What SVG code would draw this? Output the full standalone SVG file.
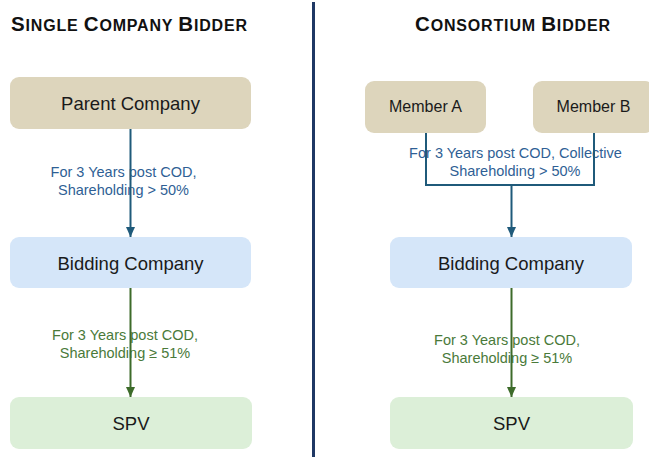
<svg xmlns="http://www.w3.org/2000/svg" width="649" height="457" viewBox="0 0 649 457">
  <style>
    .title { font-family: "Liberation Sans", Arial, sans-serif; font-weight: bold; fill: #111; }
    .big { font-size: 20.5px; }
    .sm { font-size: 16px; }
    .node { font-family: "Liberation Sans", Arial, sans-serif; font-size: 18.5px; fill: #1a1a1a; text-anchor: middle; }
    .member { font-size: 16px; }
    .lbl { font-family: "Liberation Sans", Arial, sans-serif; font-size: 14.5px; text-anchor: middle; }
    .lblBlue { fill: #2f5f95; }
    .lblGreen { fill: #4a7a3a; }
    .tan { fill: #ddd5bc; }
    .blue { fill: #d5e6f9; }
    .green { fill: #dcefd8; }
    .edgeBlue { fill: none; stroke: #1f5a7a; stroke-width: 2; }
    .edgeGreen { fill: none; stroke: #3d6b2a; stroke-width: 2; }
  </style>
  <defs>
    <marker id="arrBlue" markerUnits="userSpaceOnUse" markerWidth="10" markerHeight="10" viewBox="0 0 10 10" refX="10" refY="5" orient="auto">
      <path d="M0,0.5 L10,5 L0,9.5 Z" fill="#1f5a7a"/>
    </marker>
    <marker id="arrGreen" markerUnits="userSpaceOnUse" markerWidth="10" markerHeight="10" viewBox="0 0 10 10" refX="10" refY="5" orient="auto">
      <path d="M0,0.5 L10,5 L0,9.5 Z" fill="#3d6b2a"/>
    </marker>
  </defs>

  <rect width="649" height="457" fill="#ffffff"/>

  <!-- headings -->
  <text class="title" x="11" y="31" textLength="236" lengthAdjust="spacing"><tspan class="big">S</tspan><tspan class="sm">INGLE </tspan><tspan class="big">C</tspan><tspan class="sm">OMPANY </tspan><tspan class="big">B</tspan><tspan class="sm">IDDER</tspan></text>
  <text class="title" x="415" y="31" textLength="195" lengthAdjust="spacing"><tspan class="big">C</tspan><tspan class="sm">ONSORTIUM </tspan><tspan class="big">B</tspan><tspan class="sm">IDDER</tspan></text>

  <!-- column divider -->
  <line x1="313.5" y1="2" x2="313.5" y2="457" stroke="#1f3864" stroke-width="3"/>

  <!-- single company column -->
  <g id="parent-company">
    <rect class="tan" x="10" y="77" width="241" height="52" rx="9"/>
    <text class="node" x="130.5" y="110">Parent Company</text>
  </g>
  <g id="bidding-company-single">
    <rect class="blue" x="10" y="237" width="241" height="51" rx="9"/>
    <text class="node" x="130.5" y="270">Bidding Company</text>
  </g>
  <g id="spv-single">
    <rect class="green" x="10" y="397" width="242" height="52" rx="9"/>
    <text class="node" x="131" y="430">SPV</text>
  </g>

  <!-- consortium column -->
  <g id="member-a">
    <rect class="tan" x="365" y="81" width="121" height="52" rx="9"/>
    <text class="node member" x="425.5" y="112">Member A</text>
  </g>
  <g id="member-b">
    <rect class="tan" x="533" y="81" width="121" height="52" rx="9"/>
    <text class="node member" x="593.5" y="112">Member B</text>
  </g>
  <g id="bidding-company-consortium">
    <rect class="blue" x="390" y="237" width="242" height="51" rx="9"/>
    <text class="node" x="511" y="270">Bidding Company</text>
  </g>
  <g id="spv-consortium">
    <rect class="green" x="390" y="397" width="243" height="52" rx="9"/>
    <text class="node" x="511.5" y="430">SPV</text>
  </g>

  <!-- connectors and their labels -->
  <g id="connectors">
    <text class="lbl lblBlue" x="123.5" y="177">For 3 Years post COD,</text>
    <text class="lbl lblBlue" x="123.5" y="195">Shareholding &gt; 50%</text>
    <path class="edgeBlue" d="M130.5,129 V237" marker-end="url(#arrBlue)"/>

    <text class="lbl lblGreen" x="125" y="340">For 3 Years post COD,</text>
    <text class="lbl lblGreen" x="125" y="358">Shareholding ≥ 51%</text>
    <path class="edgeGreen" d="M130.5,288 V397" marker-end="url(#arrGreen)"/>

    <text class="lbl lblBlue" x="515.5" y="158">For 3 Years post COD, Collective</text>
    <text class="lbl lblBlue" x="515" y="176">Shareholding &gt; 50%</text>
    <path class="edgeBlue" d="M426,133 V185 H594 V133"/>
    <path class="edgeBlue" d="M511.5,185 V237" marker-end="url(#arrBlue)"/>

    <text class="lbl lblGreen" x="507" y="345">For 3 Years post COD,</text>
    <text class="lbl lblGreen" x="507" y="363">Shareholding ≥ 51%</text>
    <path class="edgeGreen" d="M511.5,288 V397" marker-end="url(#arrGreen)"/>
  </g>
</svg>
